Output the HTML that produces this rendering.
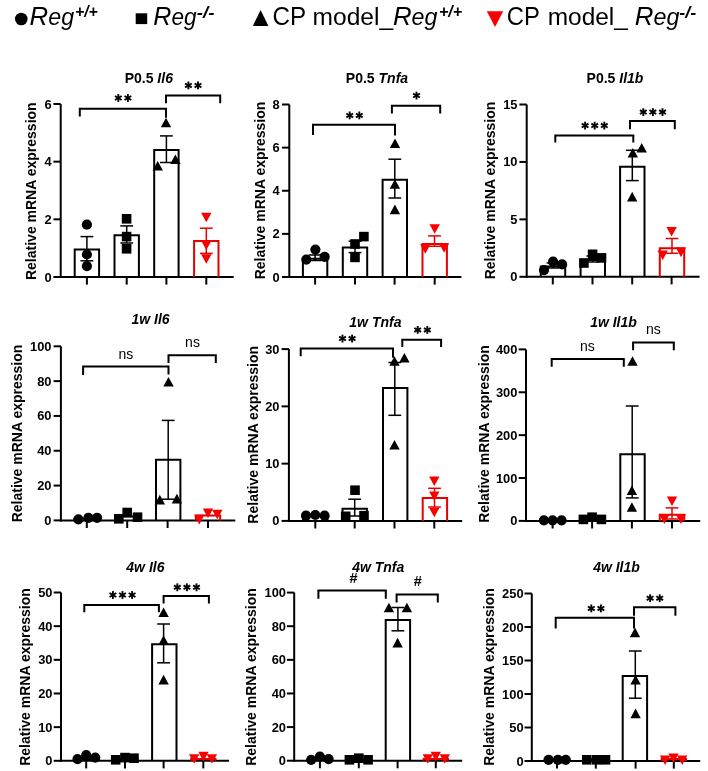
<!DOCTYPE html>
<html><head><meta charset="utf-8"><style>
html,body{margin:0;padding:0;background:#fff;}
body{width:708px;height:771px;overflow:hidden;}
svg{display:block;font-family:"Liberation Sans",sans-serif;will-change:transform;}
</style></head><body>
<svg width="708" height="771" viewBox="0 0 708 771">
<rect width="708" height="771" fill="#fff"/>
<line x1="53.4" y1="277" x2="60.7" y2="277" stroke="#000" stroke-width="2" stroke-linecap="butt"/>
<text x="51.7" y="281.5" font-size="12.9" font-weight="bold" font-style="normal" text-anchor="end">0</text>
<line x1="53.4" y1="219.33" x2="60.7" y2="219.33" stroke="#000" stroke-width="2" stroke-linecap="butt"/>
<text x="51.7" y="223.83" font-size="12.9" font-weight="bold" font-style="normal" text-anchor="end">2</text>
<line x1="53.4" y1="161.67" x2="60.7" y2="161.67" stroke="#000" stroke-width="2" stroke-linecap="butt"/>
<text x="51.7" y="166.17" font-size="12.9" font-weight="bold" font-style="normal" text-anchor="end">4</text>
<line x1="53.4" y1="104" x2="60.7" y2="104" stroke="#000" stroke-width="2" stroke-linecap="butt"/>
<text x="51.7" y="108.5" font-size="12.9" font-weight="bold" font-style="normal" text-anchor="end">6</text>
<line x1="60.7" y1="104" x2="60.7" y2="278" stroke="#000" stroke-width="2" stroke-linecap="butt"/>
<line x1="59.7" y1="277" x2="233.7" y2="277" stroke="#000" stroke-width="2" stroke-linecap="butt"/>
<line x1="86.9" y1="277" x2="86.9" y2="284.6" stroke="#000" stroke-width="2" stroke-linecap="butt"/>
<line x1="126.7" y1="277" x2="126.7" y2="284.6" stroke="#000" stroke-width="2" stroke-linecap="butt"/>
<line x1="166.4" y1="277" x2="166.4" y2="284.6" stroke="#000" stroke-width="2" stroke-linecap="butt"/>
<line x1="206.3" y1="277" x2="206.3" y2="284.6" stroke="#000" stroke-width="2" stroke-linecap="butt"/>
<polyline points="74.7,277 74.7,249.5 99.1,249.5 99.1,277" fill="none" stroke="#000" stroke-width="2" stroke-linejoin="miter"/>
<polyline points="114.5,277 114.5,235.3 138.9,235.3 138.9,277" fill="none" stroke="#000" stroke-width="2" stroke-linejoin="miter"/>
<polyline points="154.2,277 154.2,150 178.6,150 178.6,277" fill="none" stroke="#000" stroke-width="2" stroke-linejoin="miter"/>
<polyline points="194.1,277 194.1,241 218.5,241 218.5,277" fill="none" stroke="#e60000" stroke-width="2" stroke-linejoin="miter"/>
<line x1="86.9" y1="236.6" x2="86.9" y2="260.8" stroke="#000" stroke-width="1.5" stroke-linecap="butt"/>
<line x1="80.5" y1="236.6" x2="93.3" y2="236.6" stroke="#000" stroke-width="1.5" stroke-linecap="butt"/>
<line x1="80.5" y1="260.8" x2="93.3" y2="260.8" stroke="#000" stroke-width="1.5" stroke-linecap="butt"/>
<line x1="126.7" y1="225.9" x2="126.7" y2="243" stroke="#000" stroke-width="1.5" stroke-linecap="butt"/>
<line x1="120.3" y1="225.9" x2="133.1" y2="225.9" stroke="#000" stroke-width="1.5" stroke-linecap="butt"/>
<line x1="120.3" y1="243" x2="133.1" y2="243" stroke="#000" stroke-width="1.5" stroke-linecap="butt"/>
<line x1="166.4" y1="135.9" x2="166.4" y2="162.5" stroke="#000" stroke-width="1.5" stroke-linecap="butt"/>
<line x1="160" y1="135.9" x2="172.8" y2="135.9" stroke="#000" stroke-width="1.5" stroke-linecap="butt"/>
<line x1="160" y1="162.5" x2="172.8" y2="162.5" stroke="#000" stroke-width="1.5" stroke-linecap="butt"/>
<line x1="206.3" y1="228.2" x2="206.3" y2="253.4" stroke="#e60000" stroke-width="1.5" stroke-linecap="butt"/>
<line x1="199.9" y1="228.2" x2="212.7" y2="228.2" stroke="#e60000" stroke-width="1.5" stroke-linecap="butt"/>
<line x1="199.9" y1="253.4" x2="212.7" y2="253.4" stroke="#e60000" stroke-width="1.5" stroke-linecap="butt"/>
<circle cx="86.9" cy="224.7" r="5.1" fill="#000"/>
<circle cx="86.9" cy="254.5" r="5.1" fill="#000"/>
<circle cx="86.9" cy="266.1" r="5.1" fill="#000"/>
<rect x="121.8" y="214" width="9.6" height="9.6" fill="#000"/>
<rect x="121.8" y="231.8" width="9.6" height="9.6" fill="#000"/>
<rect x="121.8" y="244" width="9.6" height="9.6" fill="#000"/>
<polygon points="166,117.7 171.2,127.3 160.8,127.3" fill="#000"/>
<polygon points="175.4,154.5 180.6,164.1 170.2,164.1" fill="#000"/>
<polygon points="157.7,161 162.9,170.6 152.5,170.6" fill="#000"/>
<polygon points="206.3,222.3 211.5,212.7 201.1,212.7" fill="#f80000"/>
<polygon points="206.3,250.1 211.5,240.5 201.1,240.5" fill="#f80000"/>
<polygon points="206.3,263.8 211.5,254.2 201.1,254.2" fill="#f80000"/>
<polyline points="79.8,116.4 79.8,108.7 166,108.7 166,117.7" fill="none" stroke="#000" stroke-width="2" stroke-linejoin="miter"/>
<polyline points="166,103.3 166,95.5 220.2,95.5 220.2,103.3" fill="none" stroke="#000" stroke-width="2" stroke-linejoin="miter"/>
<line x1="118.3" y1="94.1" x2="118.3" y2="101.9" stroke="#000" stroke-width="1.9" stroke-linecap="butt"/>
<line x1="114.92" y1="96.05" x2="121.68" y2="99.95" stroke="#000" stroke-width="1.9" stroke-linecap="butt"/>
<line x1="121.68" y1="96.05" x2="114.92" y2="99.95" stroke="#000" stroke-width="1.9" stroke-linecap="butt"/>
<line x1="127.9" y1="94.1" x2="127.9" y2="101.9" stroke="#000" stroke-width="1.9" stroke-linecap="butt"/>
<line x1="124.52" y1="96.05" x2="131.28" y2="99.95" stroke="#000" stroke-width="1.9" stroke-linecap="butt"/>
<line x1="131.28" y1="96.05" x2="124.52" y2="99.95" stroke="#000" stroke-width="1.9" stroke-linecap="butt"/>
<line x1="188.4" y1="81.5" x2="188.4" y2="89.3" stroke="#000" stroke-width="1.9" stroke-linecap="butt"/>
<line x1="185.02" y1="83.45" x2="191.78" y2="87.35" stroke="#000" stroke-width="1.9" stroke-linecap="butt"/>
<line x1="191.78" y1="83.45" x2="185.02" y2="87.35" stroke="#000" stroke-width="1.9" stroke-linecap="butt"/>
<line x1="198" y1="81.5" x2="198" y2="89.3" stroke="#000" stroke-width="1.9" stroke-linecap="butt"/>
<line x1="194.62" y1="83.45" x2="201.38" y2="87.35" stroke="#000" stroke-width="1.9" stroke-linecap="butt"/>
<line x1="201.38" y1="83.45" x2="194.62" y2="87.35" stroke="#000" stroke-width="1.9" stroke-linecap="butt"/>
<text x="148.8" y="82.9" font-size="14" font-weight="bold" text-anchor="middle">P0.5 <tspan font-style="italic">Il6</tspan></text>
<text x="0" y="0" font-size="14" font-weight="bold" text-anchor="middle" transform="translate(36,191.2) rotate(-90)">Relative mRNA expression</text>
<line x1="282" y1="277" x2="289.3" y2="277" stroke="#000" stroke-width="2" stroke-linecap="butt"/>
<text x="279.6" y="281.5" font-size="12.9" font-weight="bold" font-style="normal" text-anchor="end">0</text>
<line x1="282" y1="233.88" x2="289.3" y2="233.88" stroke="#000" stroke-width="2" stroke-linecap="butt"/>
<text x="279.6" y="238.38" font-size="12.9" font-weight="bold" font-style="normal" text-anchor="end">2</text>
<line x1="282" y1="190.75" x2="289.3" y2="190.75" stroke="#000" stroke-width="2" stroke-linecap="butt"/>
<text x="279.6" y="195.25" font-size="12.9" font-weight="bold" font-style="normal" text-anchor="end">4</text>
<line x1="282" y1="147.62" x2="289.3" y2="147.62" stroke="#000" stroke-width="2" stroke-linecap="butt"/>
<text x="279.6" y="152.12" font-size="12.9" font-weight="bold" font-style="normal" text-anchor="end">6</text>
<line x1="282" y1="104.5" x2="289.3" y2="104.5" stroke="#000" stroke-width="2" stroke-linecap="butt"/>
<text x="279.6" y="109" font-size="12.9" font-weight="bold" font-style="normal" text-anchor="end">8</text>
<line x1="289.3" y1="104.5" x2="289.3" y2="278" stroke="#000" stroke-width="2" stroke-linecap="butt"/>
<line x1="288.3" y1="277" x2="461.4" y2="277" stroke="#000" stroke-width="2" stroke-linecap="butt"/>
<line x1="315.1" y1="277" x2="315.1" y2="284.6" stroke="#000" stroke-width="2" stroke-linecap="butt"/>
<line x1="355" y1="277" x2="355" y2="284.6" stroke="#000" stroke-width="2" stroke-linecap="butt"/>
<line x1="394.6" y1="277" x2="394.6" y2="284.6" stroke="#000" stroke-width="2" stroke-linecap="butt"/>
<line x1="434.7" y1="277" x2="434.7" y2="284.6" stroke="#000" stroke-width="2" stroke-linecap="butt"/>
<polyline points="302.9,277 302.9,258.8 327.3,258.8 327.3,277" fill="none" stroke="#000" stroke-width="2" stroke-linejoin="miter"/>
<polyline points="342.8,277 342.8,247.4 367.2,247.4 367.2,277" fill="none" stroke="#000" stroke-width="2" stroke-linejoin="miter"/>
<polyline points="382.6,277 382.6,179.8 407,179.8 407,277" fill="none" stroke="#000" stroke-width="2" stroke-linejoin="miter"/>
<polyline points="422.5,277 422.5,244 446.9,244 446.9,277" fill="none" stroke="#e60000" stroke-width="2" stroke-linejoin="miter"/>
<line x1="315.1" y1="255" x2="315.1" y2="260.5" stroke="#000" stroke-width="1.5" stroke-linecap="butt"/>
<line x1="308.7" y1="255" x2="321.5" y2="255" stroke="#000" stroke-width="1.5" stroke-linecap="butt"/>
<line x1="308.7" y1="260.5" x2="321.5" y2="260.5" stroke="#000" stroke-width="1.5" stroke-linecap="butt"/>
<line x1="355" y1="241.2" x2="355" y2="252.6" stroke="#000" stroke-width="1.5" stroke-linecap="butt"/>
<line x1="348.6" y1="241.2" x2="361.4" y2="241.2" stroke="#000" stroke-width="1.5" stroke-linecap="butt"/>
<line x1="348.6" y1="252.6" x2="361.4" y2="252.6" stroke="#000" stroke-width="1.5" stroke-linecap="butt"/>
<line x1="394.8" y1="159.2" x2="394.8" y2="198" stroke="#000" stroke-width="1.5" stroke-linecap="butt"/>
<line x1="388.4" y1="159.2" x2="401.2" y2="159.2" stroke="#000" stroke-width="1.5" stroke-linecap="butt"/>
<line x1="388.4" y1="198" x2="401.2" y2="198" stroke="#000" stroke-width="1.5" stroke-linecap="butt"/>
<line x1="434.5" y1="235.9" x2="434.5" y2="246.3" stroke="#e60000" stroke-width="1.5" stroke-linecap="butt"/>
<line x1="428.1" y1="235.9" x2="440.9" y2="235.9" stroke="#e60000" stroke-width="1.5" stroke-linecap="butt"/>
<line x1="428.1" y1="246.3" x2="440.9" y2="246.3" stroke="#e60000" stroke-width="1.5" stroke-linecap="butt"/>
<circle cx="306.3" cy="259.6" r="5.1" fill="#000"/>
<circle cx="315.4" cy="249.6" r="5.1" fill="#000"/>
<circle cx="324.6" cy="256.9" r="5.1" fill="#000"/>
<rect x="350.2" y="239.2" width="9.6" height="9.6" fill="#000"/>
<rect x="359.1" y="231.8" width="9.6" height="9.6" fill="#000"/>
<rect x="350.2" y="252.6" width="9.6" height="9.6" fill="#000"/>
<polygon points="395,138.4 400.2,148 389.8,148" fill="#000"/>
<polygon points="394.9,179.2 400.1,188.8 389.7,188.8" fill="#000"/>
<polygon points="394.9,204.6 400.1,214.2 389.7,214.2" fill="#000"/>
<polygon points="434.7,233.8 439.9,224.2 429.5,224.2" fill="#f80000"/>
<polygon points="425.3,253.8 430.5,244.2 420.1,244.2" fill="#f80000"/>
<polygon points="444.1,252.8 449.3,243.2 438.9,243.2" fill="#f80000"/>
<polyline points="313,135 313,124.8 395,124.8 395,135.5" fill="none" stroke="#000" stroke-width="2" stroke-linejoin="miter"/>
<polyline points="391.9,113.4 391.9,105.8 440.2,105.8 440.2,113.4" fill="none" stroke="#000" stroke-width="2" stroke-linejoin="miter"/>
<line x1="349.7" y1="111.5" x2="349.7" y2="119.3" stroke="#000" stroke-width="1.9" stroke-linecap="butt"/>
<line x1="346.32" y1="113.45" x2="353.08" y2="117.35" stroke="#000" stroke-width="1.9" stroke-linecap="butt"/>
<line x1="353.08" y1="113.45" x2="346.32" y2="117.35" stroke="#000" stroke-width="1.9" stroke-linecap="butt"/>
<line x1="359.3" y1="111.5" x2="359.3" y2="119.3" stroke="#000" stroke-width="1.9" stroke-linecap="butt"/>
<line x1="355.92" y1="113.45" x2="362.68" y2="117.35" stroke="#000" stroke-width="1.9" stroke-linecap="butt"/>
<line x1="362.68" y1="113.45" x2="355.92" y2="117.35" stroke="#000" stroke-width="1.9" stroke-linecap="butt"/>
<line x1="416.5" y1="91.7" x2="416.5" y2="99.5" stroke="#000" stroke-width="1.9" stroke-linecap="butt"/>
<line x1="413.12" y1="93.65" x2="419.88" y2="97.55" stroke="#000" stroke-width="1.9" stroke-linecap="butt"/>
<line x1="419.88" y1="93.65" x2="413.12" y2="97.55" stroke="#000" stroke-width="1.9" stroke-linecap="butt"/>
<text x="377" y="83.4" font-size="14" font-weight="bold" text-anchor="middle">P0.5 <tspan font-style="italic">Tnfa</tspan></text>
<text x="0" y="0" font-size="14" font-weight="bold" text-anchor="middle" transform="translate(265,190.5) rotate(-90)">Relative mRNA expression</text>
<line x1="519.4" y1="276.8" x2="526.7" y2="276.8" stroke="#000" stroke-width="2" stroke-linecap="butt"/>
<text x="517.5" y="281.3" font-size="12.9" font-weight="bold" font-style="normal" text-anchor="end">0</text>
<line x1="519.4" y1="219.37" x2="526.7" y2="219.37" stroke="#000" stroke-width="2" stroke-linecap="butt"/>
<text x="517.5" y="223.87" font-size="12.9" font-weight="bold" font-style="normal" text-anchor="end">5</text>
<line x1="519.4" y1="161.93" x2="526.7" y2="161.93" stroke="#000" stroke-width="2" stroke-linecap="butt"/>
<text x="517.5" y="166.43" font-size="12.9" font-weight="bold" font-style="normal" text-anchor="end">10</text>
<line x1="519.4" y1="104.5" x2="526.7" y2="104.5" stroke="#000" stroke-width="2" stroke-linecap="butt"/>
<text x="517.5" y="109" font-size="12.9" font-weight="bold" font-style="normal" text-anchor="end">15</text>
<line x1="526.7" y1="104.5" x2="526.7" y2="277.8" stroke="#000" stroke-width="2" stroke-linecap="butt"/>
<line x1="525.7" y1="276.8" x2="699.6" y2="276.8" stroke="#000" stroke-width="2" stroke-linecap="butt"/>
<line x1="552.8" y1="276.8" x2="552.8" y2="284.4" stroke="#000" stroke-width="2" stroke-linecap="butt"/>
<line x1="592.5" y1="276.8" x2="592.5" y2="284.4" stroke="#000" stroke-width="2" stroke-linecap="butt"/>
<line x1="632.2" y1="276.8" x2="632.2" y2="284.4" stroke="#000" stroke-width="2" stroke-linecap="butt"/>
<line x1="671.6" y1="276.8" x2="671.6" y2="284.4" stroke="#000" stroke-width="2" stroke-linecap="butt"/>
<polyline points="540.8,276.8 540.8,266.5 565.2,266.5 565.2,276.8" fill="none" stroke="#000" stroke-width="2" stroke-linejoin="miter"/>
<polyline points="580.6,276.8 580.6,260 605,260 605,276.8" fill="none" stroke="#000" stroke-width="2" stroke-linejoin="miter"/>
<polyline points="620.1,276.8 620.1,166.8 644.5,166.8 644.5,276.8" fill="none" stroke="#000" stroke-width="2" stroke-linejoin="miter"/>
<polyline points="659.8,276.8 659.8,248.3 684.2,248.3 684.2,276.8" fill="none" stroke="#e60000" stroke-width="2" stroke-linejoin="miter"/>
<line x1="553" y1="263" x2="553" y2="268" stroke="#000" stroke-width="1.5" stroke-linecap="butt"/>
<line x1="546.6" y1="263" x2="559.4" y2="263" stroke="#000" stroke-width="1.5" stroke-linecap="butt"/>
<line x1="546.6" y1="268" x2="559.4" y2="268" stroke="#000" stroke-width="1.5" stroke-linecap="butt"/>
<line x1="592.8" y1="256" x2="592.8" y2="262" stroke="#000" stroke-width="1.5" stroke-linecap="butt"/>
<line x1="586.4" y1="256" x2="599.2" y2="256" stroke="#000" stroke-width="1.5" stroke-linecap="butt"/>
<line x1="586.4" y1="262" x2="599.2" y2="262" stroke="#000" stroke-width="1.5" stroke-linecap="butt"/>
<line x1="632.3" y1="150.3" x2="632.3" y2="180.6" stroke="#000" stroke-width="1.5" stroke-linecap="butt"/>
<line x1="625.9" y1="150.3" x2="638.7" y2="150.3" stroke="#000" stroke-width="1.5" stroke-linecap="butt"/>
<line x1="625.9" y1="180.6" x2="638.7" y2="180.6" stroke="#000" stroke-width="1.5" stroke-linecap="butt"/>
<line x1="672" y1="238.5" x2="672" y2="253.3" stroke="#e60000" stroke-width="1.5" stroke-linecap="butt"/>
<line x1="665.6" y1="238.5" x2="678.4" y2="238.5" stroke="#e60000" stroke-width="1.5" stroke-linecap="butt"/>
<line x1="665.6" y1="253.3" x2="678.4" y2="253.3" stroke="#e60000" stroke-width="1.5" stroke-linecap="butt"/>
<circle cx="544" cy="270.1" r="5.1" fill="#000"/>
<circle cx="553.1" cy="261.7" r="5.1" fill="#000"/>
<circle cx="562.1" cy="264.4" r="5.1" fill="#000"/>
<rect x="579.1" y="258.2" width="9.6" height="9.6" fill="#000"/>
<rect x="587.8" y="249.5" width="9.6" height="9.6" fill="#000"/>
<rect x="596.7" y="253.1" width="9.6" height="9.6" fill="#000"/>
<polygon points="632.8,148 638,157.6 627.6,157.6" fill="#000"/>
<polygon points="641.7,142.9 646.9,152.5 636.5,152.5" fill="#000"/>
<polygon points="632.2,191.8 637.4,201.4 627,201.4" fill="#000"/>
<polygon points="671.6,236.6 676.8,227 666.4,227" fill="#f80000"/>
<polygon points="662.7,260.1 667.9,250.5 657.5,250.5" fill="#f80000"/>
<polygon points="681,257.2 686.2,247.6 675.8,247.6" fill="#f80000"/>
<polyline points="555.3,142.6 555.3,135.5 633.3,135.5 633.3,142.6" fill="none" stroke="#000" stroke-width="2" stroke-linejoin="miter"/>
<polyline points="630,129.2 630,121 674.8,121 674.8,129.2" fill="none" stroke="#000" stroke-width="2" stroke-linejoin="miter"/>
<line x1="585.1" y1="121.7" x2="585.1" y2="129.5" stroke="#000" stroke-width="1.9" stroke-linecap="butt"/>
<line x1="581.72" y1="123.65" x2="588.48" y2="127.55" stroke="#000" stroke-width="1.9" stroke-linecap="butt"/>
<line x1="588.48" y1="123.65" x2="581.72" y2="127.55" stroke="#000" stroke-width="1.9" stroke-linecap="butt"/>
<line x1="594.7" y1="121.7" x2="594.7" y2="129.5" stroke="#000" stroke-width="1.9" stroke-linecap="butt"/>
<line x1="591.32" y1="123.65" x2="598.08" y2="127.55" stroke="#000" stroke-width="1.9" stroke-linecap="butt"/>
<line x1="598.08" y1="123.65" x2="591.32" y2="127.55" stroke="#000" stroke-width="1.9" stroke-linecap="butt"/>
<line x1="604.3" y1="121.7" x2="604.3" y2="129.5" stroke="#000" stroke-width="1.9" stroke-linecap="butt"/>
<line x1="600.92" y1="123.65" x2="607.68" y2="127.55" stroke="#000" stroke-width="1.9" stroke-linecap="butt"/>
<line x1="607.68" y1="123.65" x2="600.92" y2="127.55" stroke="#000" stroke-width="1.9" stroke-linecap="butt"/>
<line x1="643.3" y1="108.2" x2="643.3" y2="116" stroke="#000" stroke-width="1.9" stroke-linecap="butt"/>
<line x1="639.92" y1="110.15" x2="646.68" y2="114.05" stroke="#000" stroke-width="1.9" stroke-linecap="butt"/>
<line x1="646.68" y1="110.15" x2="639.92" y2="114.05" stroke="#000" stroke-width="1.9" stroke-linecap="butt"/>
<line x1="652.9" y1="108.2" x2="652.9" y2="116" stroke="#000" stroke-width="1.9" stroke-linecap="butt"/>
<line x1="649.52" y1="110.15" x2="656.28" y2="114.05" stroke="#000" stroke-width="1.9" stroke-linecap="butt"/>
<line x1="656.28" y1="110.15" x2="649.52" y2="114.05" stroke="#000" stroke-width="1.9" stroke-linecap="butt"/>
<line x1="662.5" y1="108.2" x2="662.5" y2="116" stroke="#000" stroke-width="1.9" stroke-linecap="butt"/>
<line x1="659.12" y1="110.15" x2="665.88" y2="114.05" stroke="#000" stroke-width="1.9" stroke-linecap="butt"/>
<line x1="665.88" y1="110.15" x2="659.12" y2="114.05" stroke="#000" stroke-width="1.9" stroke-linecap="butt"/>
<text x="615" y="83.4" font-size="14" font-weight="bold" text-anchor="middle">P0.5 <tspan font-style="italic">Il1b</tspan></text>
<text x="0" y="0" font-size="14" font-weight="bold" text-anchor="middle" transform="translate(495,190.5) rotate(-90)">Relative mRNA expression</text>
<line x1="53.6" y1="520.4" x2="60.9" y2="520.4" stroke="#000" stroke-width="2" stroke-linecap="butt"/>
<text x="51.5" y="524.9" font-size="12.9" font-weight="bold" font-style="normal" text-anchor="end">0</text>
<line x1="53.6" y1="485.58" x2="60.9" y2="485.58" stroke="#000" stroke-width="2" stroke-linecap="butt"/>
<text x="51.5" y="490.08" font-size="12.9" font-weight="bold" font-style="normal" text-anchor="end">20</text>
<line x1="53.6" y1="450.76" x2="60.9" y2="450.76" stroke="#000" stroke-width="2" stroke-linecap="butt"/>
<text x="51.5" y="455.26" font-size="12.9" font-weight="bold" font-style="normal" text-anchor="end">40</text>
<line x1="53.6" y1="415.94" x2="60.9" y2="415.94" stroke="#000" stroke-width="2" stroke-linecap="butt"/>
<text x="51.5" y="420.44" font-size="12.9" font-weight="bold" font-style="normal" text-anchor="end">60</text>
<line x1="53.6" y1="381.12" x2="60.9" y2="381.12" stroke="#000" stroke-width="2" stroke-linecap="butt"/>
<text x="51.5" y="385.62" font-size="12.9" font-weight="bold" font-style="normal" text-anchor="end">80</text>
<line x1="53.6" y1="346.3" x2="60.9" y2="346.3" stroke="#000" stroke-width="2" stroke-linecap="butt"/>
<text x="51.5" y="350.8" font-size="12.9" font-weight="bold" font-style="normal" text-anchor="end">100</text>
<line x1="60.9" y1="346.3" x2="60.9" y2="521.4" stroke="#000" stroke-width="2" stroke-linecap="butt"/>
<line x1="59.9" y1="520.4" x2="235.3" y2="520.4" stroke="#000" stroke-width="2" stroke-linecap="butt"/>
<line x1="86.8" y1="520.4" x2="86.8" y2="528" stroke="#000" stroke-width="2" stroke-linecap="butt"/>
<line x1="127.2" y1="520.4" x2="127.2" y2="528" stroke="#000" stroke-width="2" stroke-linecap="butt"/>
<line x1="167.6" y1="520.4" x2="167.6" y2="528" stroke="#000" stroke-width="2" stroke-linecap="butt"/>
<line x1="208" y1="520.4" x2="208" y2="528" stroke="#000" stroke-width="2" stroke-linecap="butt"/>
<polyline points="74.6,520.4 74.6,518.6 99,518.6 99,520.4" fill="none" stroke="#000" stroke-width="2" stroke-linejoin="miter"/>
<polyline points="115,520.4 115,516.5 139.4,516.5 139.4,520.4" fill="none" stroke="#000" stroke-width="2" stroke-linejoin="miter"/>
<polyline points="156,520.4 156,459.7 180.4,459.7 180.4,520.4" fill="none" stroke="#000" stroke-width="2" stroke-linejoin="miter"/>
<polyline points="195.8,520.4 195.8,515.5 220.2,515.5 220.2,520.4" fill="none" stroke="#e60000" stroke-width="2" stroke-linejoin="miter"/>
<line x1="168.2" y1="420.4" x2="168.2" y2="499.2" stroke="#000" stroke-width="1.5" stroke-linecap="butt"/>
<line x1="161.8" y1="420.4" x2="174.6" y2="420.4" stroke="#000" stroke-width="1.5" stroke-linecap="butt"/>
<line x1="161.8" y1="499.2" x2="174.6" y2="499.2" stroke="#000" stroke-width="1.5" stroke-linecap="butt"/>
<circle cx="78.4" cy="519.4" r="5.1" fill="#000"/>
<circle cx="88.4" cy="517.8" r="5.1" fill="#000"/>
<circle cx="97.1" cy="517.8" r="5.1" fill="#000"/>
<rect x="114" y="514" width="9.6" height="9.6" fill="#000"/>
<rect x="122.4" y="507.7" width="9.6" height="9.6" fill="#000"/>
<rect x="132.7" y="512.4" width="9.6" height="9.6" fill="#000"/>
<polygon points="168.5,376.9 173.7,386.5 163.3,386.5" fill="#000"/>
<polygon points="159.8,494.8 165,504.4 154.6,504.4" fill="#000"/>
<polygon points="176.9,493.8 182.1,503.4 171.7,503.4" fill="#000"/>
<polygon points="199.3,524.4 204.5,514.8 194.1,514.8" fill="#f80000"/>
<polygon points="208,518 213.2,508.4 202.8,508.4" fill="#f80000"/>
<polygon points="217.3,519.3 222.5,509.7 212.1,509.7" fill="#f80000"/>
<polyline points="83.1,374.9 83.1,366.5 168.5,366.5 168.5,374.5" fill="none" stroke="#000" stroke-width="2" stroke-linejoin="miter"/>
<polyline points="168.5,363.1 168.5,355.2 215.8,355.2 215.8,363.1" fill="none" stroke="#000" stroke-width="2" stroke-linejoin="miter"/>
<text x="125.9" y="359" font-size="14" font-weight="normal" font-style="normal" text-anchor="middle">ns</text>
<text x="192.5" y="347.3" font-size="14" font-weight="normal" font-style="normal" text-anchor="middle">ns</text>
<text x="150.6" y="324.3" font-size="14" font-weight="bold" font-style="italic" text-anchor="middle">1w Il6</text>
<text x="0" y="0" font-size="14" font-weight="bold" text-anchor="middle" transform="translate(21.6,433.5) rotate(-90)">Relative mRNA expression</text>
<line x1="281.6" y1="520.9" x2="288.9" y2="520.9" stroke="#000" stroke-width="2" stroke-linecap="butt"/>
<text x="279.5" y="525.4" font-size="12.9" font-weight="bold" font-style="normal" text-anchor="end">0</text>
<line x1="281.6" y1="463.63" x2="288.9" y2="463.63" stroke="#000" stroke-width="2" stroke-linecap="butt"/>
<text x="279.5" y="468.13" font-size="12.9" font-weight="bold" font-style="normal" text-anchor="end">10</text>
<line x1="281.6" y1="406.37" x2="288.9" y2="406.37" stroke="#000" stroke-width="2" stroke-linecap="butt"/>
<text x="279.5" y="410.87" font-size="12.9" font-weight="bold" font-style="normal" text-anchor="end">20</text>
<line x1="281.6" y1="349.1" x2="288.9" y2="349.1" stroke="#000" stroke-width="2" stroke-linecap="butt"/>
<text x="279.5" y="353.6" font-size="12.9" font-weight="bold" font-style="normal" text-anchor="end">30</text>
<line x1="288.9" y1="349.1" x2="288.9" y2="521.9" stroke="#000" stroke-width="2" stroke-linecap="butt"/>
<line x1="287.9" y1="520.9" x2="462.2" y2="520.9" stroke="#000" stroke-width="2" stroke-linecap="butt"/>
<line x1="315.3" y1="520.9" x2="315.3" y2="528.5" stroke="#000" stroke-width="2" stroke-linecap="butt"/>
<line x1="354.7" y1="520.9" x2="354.7" y2="528.5" stroke="#000" stroke-width="2" stroke-linecap="butt"/>
<line x1="394.5" y1="520.9" x2="394.5" y2="528.5" stroke="#000" stroke-width="2" stroke-linecap="butt"/>
<line x1="434.3" y1="520.9" x2="434.3" y2="528.5" stroke="#000" stroke-width="2" stroke-linecap="butt"/>
<polyline points="303.1,520.9 303.1,514.5 327.5,514.5 327.5,520.9" fill="none" stroke="#000" stroke-width="2" stroke-linejoin="miter"/>
<polyline points="342.5,520.9 342.5,508.8 366.9,508.8 366.9,520.9" fill="none" stroke="#000" stroke-width="2" stroke-linejoin="miter"/>
<polyline points="383,520.9 383,388 407.4,388 407.4,520.9" fill="none" stroke="#000" stroke-width="2" stroke-linejoin="miter"/>
<polyline points="422.7,520.9 422.7,498 447.1,498 447.1,520.9" fill="none" stroke="#e60000" stroke-width="2" stroke-linejoin="miter"/>
<line x1="354.7" y1="499.2" x2="354.7" y2="516" stroke="#000" stroke-width="1.5" stroke-linecap="butt"/>
<line x1="348.3" y1="499.2" x2="361.1" y2="499.2" stroke="#000" stroke-width="1.5" stroke-linecap="butt"/>
<line x1="348.3" y1="516" x2="361.1" y2="516" stroke="#000" stroke-width="1.5" stroke-linecap="butt"/>
<line x1="394.8" y1="362.5" x2="394.8" y2="415.3" stroke="#000" stroke-width="1.5" stroke-linecap="butt"/>
<line x1="388.4" y1="362.5" x2="401.2" y2="362.5" stroke="#000" stroke-width="1.5" stroke-linecap="butt"/>
<line x1="388.4" y1="415.3" x2="401.2" y2="415.3" stroke="#000" stroke-width="1.5" stroke-linecap="butt"/>
<line x1="434.5" y1="488.3" x2="434.5" y2="507" stroke="#e60000" stroke-width="1.5" stroke-linecap="butt"/>
<line x1="428.1" y1="488.3" x2="440.9" y2="488.3" stroke="#e60000" stroke-width="1.5" stroke-linecap="butt"/>
<line x1="428.1" y1="507" x2="440.9" y2="507" stroke="#e60000" stroke-width="1.5" stroke-linecap="butt"/>
<circle cx="306" cy="515.7" r="5.1" fill="#000"/>
<circle cx="315.3" cy="515" r="5.1" fill="#000"/>
<circle cx="324.6" cy="515.7" r="5.1" fill="#000"/>
<rect x="350.2" y="485.4" width="9.6" height="9.6" fill="#000"/>
<rect x="340.9" y="511.5" width="9.6" height="9.6" fill="#000"/>
<rect x="359.2" y="510.9" width="9.6" height="9.6" fill="#000"/>
<polygon points="394.5,356.2 399.7,365.8 389.3,365.8" fill="#000"/>
<polygon points="404.4,353 409.6,362.6 399.2,362.6" fill="#000"/>
<polygon points="394.5,440 399.7,449.6 389.3,449.6" fill="#000"/>
<polygon points="434.3,486 439.5,476.4 429.1,476.4" fill="#f80000"/>
<polygon points="434.3,501.1 439.5,491.5 429.1,491.5" fill="#f80000"/>
<polygon points="434.3,517.3 439.5,507.7 429.1,507.7" fill="#f80000"/>
<polyline points="300.7,356.3 300.7,348.5 393,348.5 393,357.8" fill="none" stroke="#000" stroke-width="2" stroke-linejoin="miter"/>
<polyline points="402.3,347 402.3,339.8 441.1,339.8 441.1,347" fill="none" stroke="#000" stroke-width="2" stroke-linejoin="miter"/>
<line x1="342.5" y1="334.7" x2="342.5" y2="342.5" stroke="#000" stroke-width="1.9" stroke-linecap="butt"/>
<line x1="339.12" y1="336.65" x2="345.88" y2="340.55" stroke="#000" stroke-width="1.9" stroke-linecap="butt"/>
<line x1="345.88" y1="336.65" x2="339.12" y2="340.55" stroke="#000" stroke-width="1.9" stroke-linecap="butt"/>
<line x1="352.1" y1="334.7" x2="352.1" y2="342.5" stroke="#000" stroke-width="1.9" stroke-linecap="butt"/>
<line x1="348.72" y1="336.65" x2="355.48" y2="340.55" stroke="#000" stroke-width="1.9" stroke-linecap="butt"/>
<line x1="355.48" y1="336.65" x2="348.72" y2="340.55" stroke="#000" stroke-width="1.9" stroke-linecap="butt"/>
<line x1="417.7" y1="326" x2="417.7" y2="333.8" stroke="#000" stroke-width="1.9" stroke-linecap="butt"/>
<line x1="414.32" y1="327.95" x2="421.08" y2="331.85" stroke="#000" stroke-width="1.9" stroke-linecap="butt"/>
<line x1="421.08" y1="327.95" x2="414.32" y2="331.85" stroke="#000" stroke-width="1.9" stroke-linecap="butt"/>
<line x1="427.3" y1="326" x2="427.3" y2="333.8" stroke="#000" stroke-width="1.9" stroke-linecap="butt"/>
<line x1="423.92" y1="327.95" x2="430.68" y2="331.85" stroke="#000" stroke-width="1.9" stroke-linecap="butt"/>
<line x1="430.68" y1="327.95" x2="423.92" y2="331.85" stroke="#000" stroke-width="1.9" stroke-linecap="butt"/>
<text x="375.4" y="327.4" font-size="14" font-weight="bold" font-style="italic" text-anchor="middle">1w Tnfa</text>
<text x="0" y="0" font-size="14" font-weight="bold" text-anchor="middle" transform="translate(257.6,434.8) rotate(-90)">Relative mRNA expression</text>
<line x1="518.7" y1="520.9" x2="526" y2="520.9" stroke="#000" stroke-width="2" stroke-linecap="butt"/>
<text x="517.4" y="525.4" font-size="12.9" font-weight="bold" font-style="normal" text-anchor="end">0</text>
<line x1="518.7" y1="478.02" x2="526" y2="478.02" stroke="#000" stroke-width="2" stroke-linecap="butt"/>
<text x="517.4" y="482.52" font-size="12.9" font-weight="bold" font-style="normal" text-anchor="end">100</text>
<line x1="518.7" y1="435.15" x2="526" y2="435.15" stroke="#000" stroke-width="2" stroke-linecap="butt"/>
<text x="517.4" y="439.65" font-size="12.9" font-weight="bold" font-style="normal" text-anchor="end">200</text>
<line x1="518.7" y1="392.27" x2="526" y2="392.27" stroke="#000" stroke-width="2" stroke-linecap="butt"/>
<text x="517.4" y="396.77" font-size="12.9" font-weight="bold" font-style="normal" text-anchor="end">300</text>
<line x1="518.7" y1="349.4" x2="526" y2="349.4" stroke="#000" stroke-width="2" stroke-linecap="butt"/>
<text x="517.4" y="353.9" font-size="12.9" font-weight="bold" font-style="normal" text-anchor="end">400</text>
<line x1="526" y1="349.4" x2="526" y2="521.9" stroke="#000" stroke-width="2" stroke-linecap="butt"/>
<line x1="525" y1="520.9" x2="700.2" y2="520.9" stroke="#000" stroke-width="2" stroke-linecap="butt"/>
<line x1="552.6" y1="520.9" x2="552.6" y2="528.5" stroke="#000" stroke-width="2" stroke-linecap="butt"/>
<line x1="592.1" y1="520.9" x2="592.1" y2="528.5" stroke="#000" stroke-width="2" stroke-linecap="butt"/>
<line x1="631.9" y1="520.9" x2="631.9" y2="528.5" stroke="#000" stroke-width="2" stroke-linecap="butt"/>
<line x1="672" y1="520.9" x2="672" y2="528.5" stroke="#000" stroke-width="2" stroke-linecap="butt"/>
<polyline points="540.4,520.9 540.4,519.5 564.8,519.5 564.8,520.9" fill="none" stroke="#000" stroke-width="2" stroke-linejoin="miter"/>
<polyline points="579.9,520.9 579.9,518.5 604.3,518.5 604.3,520.9" fill="none" stroke="#000" stroke-width="2" stroke-linejoin="miter"/>
<polyline points="620.3,520.9 620.3,454.2 644.7,454.2 644.7,520.9" fill="none" stroke="#000" stroke-width="2" stroke-linejoin="miter"/>
<polyline points="659.8,520.9 659.8,514.8 684.2,514.8 684.2,520.9" fill="none" stroke="#e60000" stroke-width="2" stroke-linejoin="miter"/>
<line x1="632.2" y1="406" x2="632.2" y2="497.9" stroke="#000" stroke-width="1.5" stroke-linecap="butt"/>
<line x1="625.8" y1="406" x2="638.6" y2="406" stroke="#000" stroke-width="1.5" stroke-linecap="butt"/>
<line x1="625.8" y1="497.9" x2="638.6" y2="497.9" stroke="#000" stroke-width="1.5" stroke-linecap="butt"/>
<line x1="672" y1="507.9" x2="672" y2="519" stroke="#e60000" stroke-width="1.5" stroke-linecap="butt"/>
<line x1="665.6" y1="507.9" x2="678.4" y2="507.9" stroke="#e60000" stroke-width="1.5" stroke-linecap="butt"/>
<line x1="665.6" y1="519" x2="678.4" y2="519" stroke="#e60000" stroke-width="1.5" stroke-linecap="butt"/>
<circle cx="543.9" cy="520.3" r="5.1" fill="#000"/>
<circle cx="552.6" cy="520.3" r="5.1" fill="#000"/>
<circle cx="561.6" cy="520.3" r="5.1" fill="#000"/>
<rect x="578.6" y="514.6" width="9.6" height="9.6" fill="#000"/>
<rect x="587.3" y="512.4" width="9.6" height="9.6" fill="#000"/>
<rect x="596.6" y="514.6" width="9.6" height="9.6" fill="#000"/>
<polygon points="632.5,356.2 637.7,365.8 627.3,365.8" fill="#000"/>
<polygon points="631.9,485.4 637.1,495 626.7,495" fill="#000"/>
<polygon points="631.9,502.2 637.1,511.8 626.7,511.8" fill="#000"/>
<polygon points="672,506.1 677.2,496.5 666.8,496.5" fill="#f80000"/>
<polygon points="664.4,524.1 669.6,514.5 659.2,514.5" fill="#f80000"/>
<polygon points="680.9,523.9 686.1,514.3 675.7,514.3" fill="#f80000"/>
<polyline points="551.7,366.8 551.7,359 623.8,359 623.8,366.8" fill="none" stroke="#000" stroke-width="2" stroke-linejoin="miter"/>
<polyline points="633.1,350.2 633.1,342.6 673.8,342.6 673.8,350.2" fill="none" stroke="#000" stroke-width="2" stroke-linejoin="miter"/>
<text x="587.4" y="351.4" font-size="14" font-weight="normal" font-style="normal" text-anchor="middle">ns</text>
<text x="653.3" y="333.7" font-size="14" font-weight="normal" font-style="normal" text-anchor="middle">ns</text>
<text x="613.5" y="327.4" font-size="14" font-weight="bold" font-style="italic" text-anchor="middle">1w Il1b</text>
<text x="0" y="0" font-size="14" font-weight="bold" text-anchor="middle" transform="translate(489.3,434) rotate(-90)">Relative mRNA expression</text>
<line x1="53.7" y1="760.8" x2="61" y2="760.8" stroke="#000" stroke-width="2" stroke-linecap="butt"/>
<text x="52.5" y="765.3" font-size="12.9" font-weight="bold" font-style="normal" text-anchor="end">0</text>
<line x1="53.7" y1="727.14" x2="61" y2="727.14" stroke="#000" stroke-width="2" stroke-linecap="butt"/>
<text x="52.5" y="731.64" font-size="12.9" font-weight="bold" font-style="normal" text-anchor="end">10</text>
<line x1="53.7" y1="693.48" x2="61" y2="693.48" stroke="#000" stroke-width="2" stroke-linecap="butt"/>
<text x="52.5" y="697.98" font-size="12.9" font-weight="bold" font-style="normal" text-anchor="end">20</text>
<line x1="53.7" y1="659.82" x2="61" y2="659.82" stroke="#000" stroke-width="2" stroke-linecap="butt"/>
<text x="52.5" y="664.32" font-size="12.9" font-weight="bold" font-style="normal" text-anchor="end">30</text>
<line x1="53.7" y1="626.16" x2="61" y2="626.16" stroke="#000" stroke-width="2" stroke-linecap="butt"/>
<text x="52.5" y="630.66" font-size="12.9" font-weight="bold" font-style="normal" text-anchor="end">40</text>
<line x1="53.7" y1="592.5" x2="61" y2="592.5" stroke="#000" stroke-width="2" stroke-linecap="butt"/>
<text x="52.5" y="597" font-size="12.9" font-weight="bold" font-style="normal" text-anchor="end">50</text>
<line x1="61" y1="592.5" x2="61" y2="761.8" stroke="#000" stroke-width="2" stroke-linecap="butt"/>
<line x1="60" y1="760.8" x2="229.1" y2="760.8" stroke="#000" stroke-width="2" stroke-linecap="butt"/>
<line x1="86.2" y1="760.8" x2="86.2" y2="768.4" stroke="#000" stroke-width="2" stroke-linecap="butt"/>
<line x1="125" y1="760.8" x2="125" y2="768.4" stroke="#000" stroke-width="2" stroke-linecap="butt"/>
<line x1="163.6" y1="760.8" x2="163.6" y2="768.4" stroke="#000" stroke-width="2" stroke-linecap="butt"/>
<line x1="203.3" y1="760.8" x2="203.3" y2="768.4" stroke="#000" stroke-width="2" stroke-linecap="butt"/>
<polyline points="74,760.8 74,759 98.4,759 98.4,760.8" fill="none" stroke="#000" stroke-width="2" stroke-linejoin="miter"/>
<polyline points="112.8,760.8 112.8,759 137.2,759 137.2,760.8" fill="none" stroke="#000" stroke-width="2" stroke-linejoin="miter"/>
<polyline points="152.1,760.8 152.1,644.2 176.5,644.2 176.5,760.8" fill="none" stroke="#000" stroke-width="2" stroke-linejoin="miter"/>
<polyline points="191.1,760.8 191.1,759 215.5,759 215.5,760.8" fill="none" stroke="#e60000" stroke-width="2" stroke-linejoin="miter"/>
<line x1="163.6" y1="624" x2="163.6" y2="662.8" stroke="#000" stroke-width="1.5" stroke-linecap="butt"/>
<line x1="157.2" y1="624" x2="170" y2="624" stroke="#000" stroke-width="1.5" stroke-linecap="butt"/>
<line x1="157.2" y1="662.8" x2="170" y2="662.8" stroke="#000" stroke-width="1.5" stroke-linecap="butt"/>
<circle cx="77.5" cy="759.1" r="5.1" fill="#000"/>
<circle cx="86.2" cy="755.1" r="5.1" fill="#000"/>
<circle cx="95.2" cy="757.6" r="5.1" fill="#000"/>
<rect x="110.9" y="755" width="9.6" height="9.6" fill="#000"/>
<rect x="120.2" y="752.8" width="9.6" height="9.6" fill="#000"/>
<rect x="129.2" y="753.4" width="9.6" height="9.6" fill="#000"/>
<polygon points="163.6,607.4 168.8,617 158.4,617" fill="#000"/>
<polygon points="163.6,635.3 168.8,644.9 158.4,644.9" fill="#000"/>
<polygon points="163.6,674.8 168.8,684.4 158.4,684.4" fill="#000"/>
<polygon points="194.2,763.8 199.4,754.2 189,754.2" fill="#f80000"/>
<polygon points="203.5,761.4 208.7,751.8 198.3,751.8" fill="#f80000"/>
<polygon points="211.9,763.8 217.1,754.2 206.7,754.2" fill="#f80000"/>
<polyline points="84.3,612.2 84.3,605 158.9,605 158.9,612.2" fill="none" stroke="#000" stroke-width="2" stroke-linejoin="miter"/>
<polyline points="163.6,603.5 163.6,596 208.9,596 208.9,603.5" fill="none" stroke="#000" stroke-width="2" stroke-linejoin="miter"/>
<line x1="112.9" y1="591.1" x2="112.9" y2="598.9" stroke="#000" stroke-width="1.9" stroke-linecap="butt"/>
<line x1="109.52" y1="593.05" x2="116.28" y2="596.95" stroke="#000" stroke-width="1.9" stroke-linecap="butt"/>
<line x1="116.28" y1="593.05" x2="109.52" y2="596.95" stroke="#000" stroke-width="1.9" stroke-linecap="butt"/>
<line x1="122.5" y1="591.1" x2="122.5" y2="598.9" stroke="#000" stroke-width="1.9" stroke-linecap="butt"/>
<line x1="119.12" y1="593.05" x2="125.88" y2="596.95" stroke="#000" stroke-width="1.9" stroke-linecap="butt"/>
<line x1="125.88" y1="593.05" x2="119.12" y2="596.95" stroke="#000" stroke-width="1.9" stroke-linecap="butt"/>
<line x1="132.1" y1="591.1" x2="132.1" y2="598.9" stroke="#000" stroke-width="1.9" stroke-linecap="butt"/>
<line x1="128.72" y1="593.05" x2="135.48" y2="596.95" stroke="#000" stroke-width="1.9" stroke-linecap="butt"/>
<line x1="135.48" y1="593.05" x2="128.72" y2="596.95" stroke="#000" stroke-width="1.9" stroke-linecap="butt"/>
<line x1="177.3" y1="583.4" x2="177.3" y2="591.2" stroke="#000" stroke-width="1.9" stroke-linecap="butt"/>
<line x1="173.92" y1="585.35" x2="180.68" y2="589.25" stroke="#000" stroke-width="1.9" stroke-linecap="butt"/>
<line x1="180.68" y1="585.35" x2="173.92" y2="589.25" stroke="#000" stroke-width="1.9" stroke-linecap="butt"/>
<line x1="186.9" y1="583.4" x2="186.9" y2="591.2" stroke="#000" stroke-width="1.9" stroke-linecap="butt"/>
<line x1="183.52" y1="585.35" x2="190.28" y2="589.25" stroke="#000" stroke-width="1.9" stroke-linecap="butt"/>
<line x1="190.28" y1="585.35" x2="183.52" y2="589.25" stroke="#000" stroke-width="1.9" stroke-linecap="butt"/>
<line x1="196.5" y1="583.4" x2="196.5" y2="591.2" stroke="#000" stroke-width="1.9" stroke-linecap="butt"/>
<line x1="193.12" y1="585.35" x2="199.88" y2="589.25" stroke="#000" stroke-width="1.9" stroke-linecap="butt"/>
<line x1="199.88" y1="585.35" x2="193.12" y2="589.25" stroke="#000" stroke-width="1.9" stroke-linecap="butt"/>
<text x="145.4" y="572.4" font-size="14" font-weight="bold" font-style="italic" text-anchor="middle">4w Il6</text>
<text x="0" y="0" font-size="14" font-weight="bold" text-anchor="middle" transform="translate(30.2,677) rotate(-90)">Relative mRNA expression</text>
<line x1="286.9" y1="760.7" x2="294.2" y2="760.7" stroke="#000" stroke-width="2" stroke-linecap="butt"/>
<text x="286" y="765.2" font-size="12.9" font-weight="bold" font-style="normal" text-anchor="end">0</text>
<line x1="286.9" y1="727.08" x2="294.2" y2="727.08" stroke="#000" stroke-width="2" stroke-linecap="butt"/>
<text x="286" y="731.58" font-size="12.9" font-weight="bold" font-style="normal" text-anchor="end">20</text>
<line x1="286.9" y1="693.46" x2="294.2" y2="693.46" stroke="#000" stroke-width="2" stroke-linecap="butt"/>
<text x="286" y="697.96" font-size="12.9" font-weight="bold" font-style="normal" text-anchor="end">40</text>
<line x1="286.9" y1="659.84" x2="294.2" y2="659.84" stroke="#000" stroke-width="2" stroke-linecap="butt"/>
<text x="286" y="664.34" font-size="12.9" font-weight="bold" font-style="normal" text-anchor="end">60</text>
<line x1="286.9" y1="626.22" x2="294.2" y2="626.22" stroke="#000" stroke-width="2" stroke-linecap="butt"/>
<text x="286" y="630.72" font-size="12.9" font-weight="bold" font-style="normal" text-anchor="end">80</text>
<line x1="286.9" y1="592.6" x2="294.2" y2="592.6" stroke="#000" stroke-width="2" stroke-linecap="butt"/>
<text x="286" y="597.1" font-size="12.9" font-weight="bold" font-style="normal" text-anchor="end">100</text>
<line x1="294.2" y1="592.6" x2="294.2" y2="761.7" stroke="#000" stroke-width="2" stroke-linecap="butt"/>
<line x1="293.2" y1="760.7" x2="462.2" y2="760.7" stroke="#000" stroke-width="2" stroke-linecap="butt"/>
<line x1="319.9" y1="760.7" x2="319.9" y2="768.3" stroke="#000" stroke-width="2" stroke-linecap="butt"/>
<line x1="358.8" y1="760.7" x2="358.8" y2="768.3" stroke="#000" stroke-width="2" stroke-linecap="butt"/>
<line x1="397.6" y1="760.7" x2="397.6" y2="768.3" stroke="#000" stroke-width="2" stroke-linecap="butt"/>
<line x1="435.8" y1="760.7" x2="435.8" y2="768.3" stroke="#000" stroke-width="2" stroke-linecap="butt"/>
<polyline points="307.7,760.7 307.7,759 332.1,759 332.1,760.7" fill="none" stroke="#000" stroke-width="2" stroke-linejoin="miter"/>
<polyline points="346.6,760.7 346.6,759 371,759 371,760.7" fill="none" stroke="#000" stroke-width="2" stroke-linejoin="miter"/>
<polyline points="385.7,760.7 385.7,620 410.1,620 410.1,760.7" fill="none" stroke="#000" stroke-width="2" stroke-linejoin="miter"/>
<polyline points="423.6,760.7 423.6,759 448,759 448,760.7" fill="none" stroke="#e60000" stroke-width="2" stroke-linejoin="miter"/>
<line x1="397.9" y1="607.5" x2="397.9" y2="630.8" stroke="#000" stroke-width="1.5" stroke-linecap="butt"/>
<line x1="391.5" y1="607.5" x2="404.3" y2="607.5" stroke="#000" stroke-width="1.5" stroke-linecap="butt"/>
<line x1="391.5" y1="630.8" x2="404.3" y2="630.8" stroke="#000" stroke-width="1.5" stroke-linecap="butt"/>
<circle cx="311.2" cy="759.8" r="5.1" fill="#000"/>
<circle cx="319.9" cy="756.7" r="5.1" fill="#000"/>
<circle cx="328.6" cy="759.1" r="5.1" fill="#000"/>
<rect x="344.6" y="755" width="9.6" height="9.6" fill="#000"/>
<rect x="354" y="753.4" width="9.6" height="9.6" fill="#000"/>
<rect x="363.3" y="755" width="9.6" height="9.6" fill="#000"/>
<polygon points="388.9,602.7 394.1,612.3 383.7,612.3" fill="#000"/>
<polygon points="406.9,602.7 412.1,612.3 401.7,612.3" fill="#000"/>
<polygon points="397.6,637.8 402.8,647.4 392.4,647.4" fill="#000"/>
<polygon points="427.8,763.8 433,754.2 422.6,754.2" fill="#f80000"/>
<polygon points="435.8,761.4 441,751.8 430.6,751.8" fill="#f80000"/>
<polygon points="444.8,763.8 450,754.2 439.6,754.2" fill="#f80000"/>
<polyline points="318.4,598.8 318.4,590.6 385.8,590.6 385.8,598.8" fill="none" stroke="#000" stroke-width="2" stroke-linejoin="miter"/>
<polyline points="396.6,602.4 396.6,594.6 437.8,594.6 437.8,602.4" fill="none" stroke="#000" stroke-width="2" stroke-linejoin="miter"/>
<text x="353.5" y="583.4" font-size="14.5" font-weight="bold" font-style="normal" text-anchor="middle">#</text>
<text x="417.8" y="585.9" font-size="14.5" font-weight="bold" font-style="normal" text-anchor="middle">#</text>
<text x="378.2" y="571.8" font-size="14" font-weight="bold" font-style="italic" text-anchor="middle">4w Tnfa</text>
<text x="0" y="0" font-size="14" font-weight="bold" text-anchor="middle" transform="translate(255.6,677) rotate(-90)">Relative mRNA expression</text>
<line x1="524.5" y1="761" x2="531.8" y2="761" stroke="#000" stroke-width="2" stroke-linecap="butt"/>
<text x="523.6" y="765.5" font-size="12.9" font-weight="bold" font-style="normal" text-anchor="end">0</text>
<line x1="524.5" y1="727.5" x2="531.8" y2="727.5" stroke="#000" stroke-width="2" stroke-linecap="butt"/>
<text x="523.6" y="732" font-size="12.9" font-weight="bold" font-style="normal" text-anchor="end">50</text>
<line x1="524.5" y1="694" x2="531.8" y2="694" stroke="#000" stroke-width="2" stroke-linecap="butt"/>
<text x="523.6" y="698.5" font-size="12.9" font-weight="bold" font-style="normal" text-anchor="end">100</text>
<line x1="524.5" y1="660.5" x2="531.8" y2="660.5" stroke="#000" stroke-width="2" stroke-linecap="butt"/>
<text x="523.6" y="665" font-size="12.9" font-weight="bold" font-style="normal" text-anchor="end">150</text>
<line x1="524.5" y1="627" x2="531.8" y2="627" stroke="#000" stroke-width="2" stroke-linecap="butt"/>
<text x="523.6" y="631.5" font-size="12.9" font-weight="bold" font-style="normal" text-anchor="end">200</text>
<line x1="524.5" y1="593.5" x2="531.8" y2="593.5" stroke="#000" stroke-width="2" stroke-linecap="butt"/>
<text x="523.6" y="598" font-size="12.9" font-weight="bold" font-style="normal" text-anchor="end">250</text>
<line x1="531.8" y1="593.5" x2="531.8" y2="762" stroke="#000" stroke-width="2" stroke-linecap="butt"/>
<line x1="530.8" y1="761" x2="700.2" y2="761" stroke="#000" stroke-width="2" stroke-linecap="butt"/>
<line x1="557" y1="761" x2="557" y2="768.6" stroke="#000" stroke-width="2" stroke-linecap="butt"/>
<line x1="595.8" y1="761" x2="595.8" y2="768.6" stroke="#000" stroke-width="2" stroke-linecap="butt"/>
<line x1="635.6" y1="761" x2="635.6" y2="768.6" stroke="#000" stroke-width="2" stroke-linecap="butt"/>
<line x1="673.8" y1="761" x2="673.8" y2="768.6" stroke="#000" stroke-width="2" stroke-linecap="butt"/>
<polyline points="544.8,761 544.8,759 569.2,759 569.2,761" fill="none" stroke="#000" stroke-width="2" stroke-linejoin="miter"/>
<polyline points="583.6,761 583.6,759 608,759 608,761" fill="none" stroke="#000" stroke-width="2" stroke-linejoin="miter"/>
<polyline points="622.7,761 622.7,676.1 647.1,676.1 647.1,761" fill="none" stroke="#000" stroke-width="2" stroke-linejoin="miter"/>
<polyline points="661.6,761 661.6,759 686,759 686,761" fill="none" stroke="#e60000" stroke-width="2" stroke-linejoin="miter"/>
<line x1="635.3" y1="651" x2="635.3" y2="698.2" stroke="#000" stroke-width="1.5" stroke-linecap="butt"/>
<line x1="628.9" y1="651" x2="641.7" y2="651" stroke="#000" stroke-width="1.5" stroke-linecap="butt"/>
<line x1="628.9" y1="698.2" x2="641.7" y2="698.2" stroke="#000" stroke-width="1.5" stroke-linecap="butt"/>
<circle cx="548.6" cy="759.8" r="5.1" fill="#000"/>
<circle cx="557.9" cy="759.8" r="5.1" fill="#000"/>
<circle cx="565.7" cy="759.8" r="5.1" fill="#000"/>
<rect x="582" y="755" width="9.6" height="9.6" fill="#000"/>
<rect x="592" y="755" width="9.6" height="9.6" fill="#000"/>
<rect x="600.7" y="755" width="9.6" height="9.6" fill="#000"/>
<polygon points="635,627.6 640.2,637.2 629.8,637.2" fill="#000"/>
<polygon points="635.6,675 640.8,684.6 630.4,684.6" fill="#000"/>
<polygon points="635.6,708.6 640.8,718.2 630.4,718.2" fill="#000"/>
<polygon points="665.1,765 670.3,755.4 659.9,755.4" fill="#f80000"/>
<polygon points="673.5,763 678.7,753.4 668.3,753.4" fill="#f80000"/>
<polygon points="682.2,765 687.4,755.4 677,755.4" fill="#f80000"/>
<polyline points="555.7,628.5 555.7,617.7 634,617.7 634,628.5" fill="none" stroke="#000" stroke-width="2" stroke-linejoin="miter"/>
<polyline points="634,615.8 634,607.3 675.4,607.3 675.4,615.8" fill="none" stroke="#000" stroke-width="2" stroke-linejoin="miter"/>
<line x1="591.3" y1="604.5" x2="591.3" y2="612.3" stroke="#000" stroke-width="1.9" stroke-linecap="butt"/>
<line x1="587.92" y1="606.45" x2="594.68" y2="610.35" stroke="#000" stroke-width="1.9" stroke-linecap="butt"/>
<line x1="594.68" y1="606.45" x2="587.92" y2="610.35" stroke="#000" stroke-width="1.9" stroke-linecap="butt"/>
<line x1="600.9" y1="604.5" x2="600.9" y2="612.3" stroke="#000" stroke-width="1.9" stroke-linecap="butt"/>
<line x1="597.52" y1="606.45" x2="604.28" y2="610.35" stroke="#000" stroke-width="1.9" stroke-linecap="butt"/>
<line x1="604.28" y1="606.45" x2="597.52" y2="610.35" stroke="#000" stroke-width="1.9" stroke-linecap="butt"/>
<line x1="650.1" y1="594.3" x2="650.1" y2="602.1" stroke="#000" stroke-width="1.9" stroke-linecap="butt"/>
<line x1="646.72" y1="596.25" x2="653.48" y2="600.15" stroke="#000" stroke-width="1.9" stroke-linecap="butt"/>
<line x1="653.48" y1="596.25" x2="646.72" y2="600.15" stroke="#000" stroke-width="1.9" stroke-linecap="butt"/>
<line x1="659.7" y1="594.3" x2="659.7" y2="602.1" stroke="#000" stroke-width="1.9" stroke-linecap="butt"/>
<line x1="656.32" y1="596.25" x2="663.08" y2="600.15" stroke="#000" stroke-width="1.9" stroke-linecap="butt"/>
<line x1="663.08" y1="596.25" x2="656.32" y2="600.15" stroke="#000" stroke-width="1.9" stroke-linecap="butt"/>
<text x="616.5" y="572.4" font-size="14" font-weight="bold" font-style="italic" text-anchor="middle">4w Il1b</text>
<text x="0" y="0" font-size="14" font-weight="bold" text-anchor="middle" transform="translate(494.2,677) rotate(-90)">Relative mRNA expression</text>
<circle cx="21.3" cy="19" r="6.3" fill="#000"/>
<text x="29.6" y="25.1" font-size="23" font-style="italic" font-weight="normal" textLength="44.5" lengthAdjust="spacingAndGlyphs"><tspan font-size="25.5">R</tspan>eg</text>
<text x="75" y="16.5" font-size="16.5" font-style="italic" font-weight="bold" textLength="22.8" lengthAdjust="spacingAndGlyphs">+/+</text>
<rect x="135.7" y="13.3" width="11.5" height="10.8" fill="#000"/>
<text x="153.3" y="25.1" font-size="23" font-style="italic" font-weight="normal" textLength="43.2" lengthAdjust="spacingAndGlyphs"><tspan font-size="25.5">R</tspan>eg</text>
<text x="196.8" y="18.4" font-size="16.5" font-style="italic" font-weight="bold" textLength="17.6" lengthAdjust="spacingAndGlyphs">-/-</text>
<polygon points="260.6,9.9 268.4,26.1 252.8,26.1" fill="#000"/>
<text x="272.5" y="25.1" font-size="25.5" font-style="normal" font-weight="normal" textLength="33.6" lengthAdjust="spacingAndGlyphs">CP</text>
<text x="312.6" y="25.1" font-size="23" font-style="normal" font-weight="normal" textLength="80.5" lengthAdjust="spacingAndGlyphs">model_</text>
<text x="393" y="25.1" font-size="23" font-style="italic" font-weight="normal" textLength="44.5" lengthAdjust="spacingAndGlyphs"><tspan font-size="25.5">R</tspan>eg</text>
<text x="438.9" y="16.5" font-size="16.5" font-style="italic" font-weight="bold" textLength="23.3" lengthAdjust="spacingAndGlyphs">+/+</text>
<polygon points="486.8,11.3 503.2,11.3 495,27.1" fill="#f80000"/>
<text x="506.7" y="25.1" font-size="25.5" font-style="normal" font-weight="normal" textLength="33.1" lengthAdjust="spacingAndGlyphs">CP</text>
<text x="547.7" y="25.1" font-size="23" font-style="normal" font-weight="normal" textLength="80.2" lengthAdjust="spacingAndGlyphs">model_</text>
<text x="634.8" y="25.1" font-size="23" font-style="italic" font-weight="normal" textLength="44.6" lengthAdjust="spacingAndGlyphs"><tspan font-size="25.5">R</tspan>eg</text>
<text x="679.2" y="18.4" font-size="16.5" font-style="italic" font-weight="bold" textLength="17" lengthAdjust="spacingAndGlyphs">-/-</text>
</svg>
</body></html>
